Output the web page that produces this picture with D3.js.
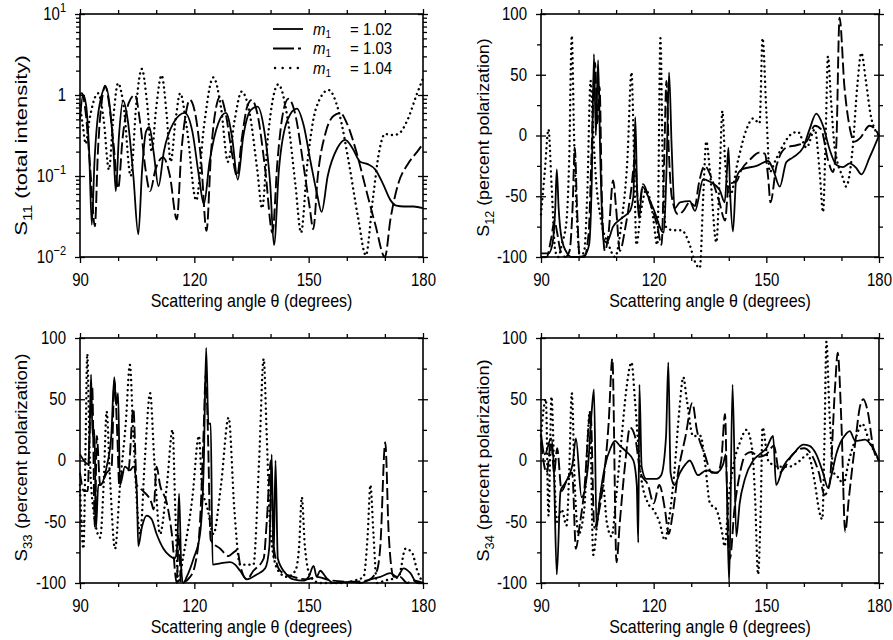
<!DOCTYPE html>
<html>
<head>
<meta charset="utf-8">
<script src="https://cdn.jsdelivr.net/npm/d3@7"></script>
<style>
  body { margin: 0; background: #fff; }
  svg text { font-family: "Liberation Sans", Arial, Helvetica, sans-serif; fill: #000; }
</style>
</head>
<body>
<div id="chart"></div>
<script>
// ---- data: [scattering angle, value] ----
var thetaMajor = [90, 120, 150, 180];
var thetaMinor = [100, 110, 130, 140, 160, 170];
var polMajor = [-100, -50, 0, 50, 100];
var polMinor = [-75, -25, 25, 75];
var logMajor = [0.01, 0.1, 1, 10];
var legendLabels = ["1.02", "1.03", "1.04"];

// S11 (total intensity)
var s11_102 = [[90,0.5],[90.8,1.0],[91.6,0.75],[92.4,0.2],[93.1,0.025],[93.8,0.15],[95,0.7],[96.8,1.25],[98,0.6],[98.8,0.2],[99.4,0.065],[100.2,0.3],[101.3,0.85],[102.5,0.5],[104,0.1],[105.3,0.019],[106.3,0.12],[107.3,0.35],[108.2,0.4],[109.3,0.2],[110.6,0.075],[112,0.2],[114.5,0.45],[117.5,0.6],[119.5,0.35],[121.2,0.1],[122.5,0.045],[124,0.15],[126.3,0.45],[128.3,0.6],[129.9,0.3],[131.4,0.09],[132.8,0.3],[134.8,0.65],[136.6,0.72],[138.4,0.35],[139.9,0.08],[140.9,0.014],[142.2,0.12],[144.5,0.5],[146.9,0.68],[148.7,0.42],[150.5,0.15],[152.2,0.06],[153.4,0.036],[155,0.1],[157.5,0.22],[159.6,0.28],[161.5,0.22],[163.5,0.15],[165.5,0.14],[167.5,0.12],[169.5,0.08],[171.5,0.05],[173,0.043],[175,0.042],[177.5,0.042],[180,0.04]];
var s11_103 = [[90,1.0],[90.5,1.05],[91.5,0.6],[92.7,0.12],[93.9,0.024],[94.7,0.2],[95.8,0.9],[96.6,1.3],[97.6,0.8],[98.8,0.25],[100,0.07],[101.2,0.3],[102.8,0.8],[104.4,1.0],[105.8,0.45],[107.2,0.12],[108.4,0.065],[109.8,0.12],[111.8,0.17],[113.6,0.1],[115.4,0.029],[116.6,0.2],[117.8,0.6],[118.8,0.87],[120.2,0.6],[121.8,0.15],[123.2,0.021],[124.4,0.2],[125.7,0.7],[126.8,0.95],[128.2,0.6],[129.8,0.2],[131.2,0.1],[132.5,0.3],[134,0.75],[135.1,0.87],[136.5,0.6],[138.6,0.12],[140.5,0.02],[141.8,0.15],[143.4,0.65],[144.7,0.9],[146.4,0.6],[148.5,0.15],[150.3,0.04],[151.2,0.022],[152.4,0.1],[154.5,0.35],[156.5,0.55],[158.3,0.6],[160,0.45],[162.5,0.2],[165,0.07],[167.5,0.025],[170,0.01],[171.5,0.03],[173.5,0.08],[176,0.14],[178.5,0.2],[180,0.25]];
var s11_104 = [[90,0.75],[90.8,0.4],[91.5,0.25],[92.5,0.5],[94.8,1.05],[96.2,0.5],[97.6,0.12],[98.7,0.5],[100,1.4],[101.5,0.7],[103.3,0.1],[104.8,0.8],[106.2,2.1],[107.6,0.8],[108.8,0.2],[110,0.7],[111.4,1.75],[112.7,0.6],[113.8,0.15],[115.1,0.5],[116.3,1.05],[118,0.4],[120.5,0.05],[122.5,0.4],[125,1.65],[127,0.7],[128.8,0.15],[130.6,0.5],[132.4,1.1],[134.5,0.6],[136.5,0.12],[137.8,0.04],[139.3,0.3],[142,1.35],[144.5,0.5],[146.5,0.08],[148,0.02],[149.7,0.15],[152,0.7],[155.2,1.15],[158,0.6],[160.5,0.15],[163,0.03],[165,0.0105],[166.8,0.05],[168.5,0.2],[170,0.33],[172,0.32],[173.5,0.33],[176,0.5],[178.3,1.0],[180,1.6]];

// S12 (percent polarization)
var s12_102 = [[90,-97],[92,-97],[93,-90],[93.8,-60],[94.2,-28],[94.7,-60],[95.5,-85],[97,-97],[98,-100],[100,-100],[101.5,-99],[102.8,-90],[103.5,-40],[104.1,67],[104.6,0],[105.2,62],[105.8,-20],[106.6,-85],[107.5,-88],[109.2,-75],[111.5,-68],[113.7,-62],[114.6,-50],[115.1,15],[115.6,-45],[116.1,-68],[117,-42],[118.5,-50],[119.9,-60],[122.7,-80],[123.4,-30],[124.1,52],[124.8,-10],[125.6,-60],[127,-55],[129.6,-54],[131,-62],[133.2,-36],[135,-38],[137.6,-45],[138.9,-55],[139.5,-30],[139.9,-10],[140.4,-50],[141.1,-79],[142,-35],[143.4,-28],[147.4,-25],[150.5,-21],[151.8,-28],[153.6,-42],[155.3,-22],[157.1,-18],[159.8,-10],[161.5,5],[163.3,18],[165.1,8],[166.9,-12],[168.6,-24],[170.4,-26],[172.2,-23],[174,-27],[175.3,-32],[177.5,-18],[180,0]];
var s12_103 = [[90,-100],[91.5,-100],[92.7,-85],[93.6,-70],[94.3,-80],[95.2,-95],[96.5,-100],[97.6,-95],[98.4,-60],[99,-10],[99.6,-60],[100.3,-100],[101.5,-100],[102.7,-80],[103.4,-20],[104.4,60],[105,10],[105.6,40],[106.2,-50],[107,-95],[108,-80],[109.2,-37],[110,-60],[111,-95],[112.5,-75],[114,-45],[115,-20],[116,-60],[117.2,-40],[119,-55],[121,-75],[122.1,-90],[122.8,-20],[123.4,45],[124,-10],[124.8,-50],[126.5,-65],[127.9,-62],[129.6,-55],[131,-58],[132,-40],[133.6,-25],[135.4,-35],[137.5,-55],[139,-70],[140,-40],[142,-38],[143.4,-28],[145.6,-20],[148.2,-14],[149.6,-15],[150.5,-35],[151.1,-55],[152.7,-25],[155.3,-10],[158,-8],[160.7,-5],[162.9,8],[164.6,5],[166.4,-20],[167.7,-30],[168.6,-10],[169.5,97],[170.8,40],[172,10],[173.5,-5],[175,-2],[177.5,8],[179,5],[180,0]];
var s12_104 = [[90,-65],[91,-30],[92,5],[92.8,-40],[93.8,-95],[94.6,-100],[95.5,-90],[96.8,-70],[97.5,-20],[98.2,82],[98.8,0],[99.6,-70],[100.4,-100],[101.5,-95],[102.3,-50],[103.2,45],[103.8,10],[104.5,-30],[106,-70],[108,-90],[109.7,-100],[111.5,-70],[113,-20],[114.1,52],[114.8,-20],[115.4,-90],[116.5,-65],[118,-45],[119.5,-60],[121,-90],[121.8,80],[122.4,-20],[123.2,-75],[125.2,-78],[127.4,-78],[129.6,-90],[131,-104],[132.3,-109],[133.2,-50],[134,-5],[135,-30],[136.7,-88],[137.6,-30],[138.3,20],[139,-20],[140.3,-50],[142.5,-20],[144.7,5],[146.5,14],[148.2,10],[149,80],[150,20],[150.9,-30],[152.5,-20],[154.5,-8],[156.2,0],[158.4,3],[160.7,-10],[162.9,5],[164.2,-30],[165.1,-63],[165.8,0],[166.4,65],[167.2,30],[168.2,-10],[170.4,-35],[171.2,-42],[173,-10],[174.2,40],[175.3,68],[176.5,45],[177.9,15],[180,0]];

// S33 (percent polarization)
var s33_102 = [[90,5],[91,0],[92,-3],[92.5,20],[92.9,70],[93.3,20],[93.8,25],[94.2,-55],[94.8,-20],[95.3,-20],[97,-5],[98.2,20],[99,68],[99.5,45],[100,55],[100.5,-20],[101.8,-5],[103.1,-8],[104,-5],[104.9,-25],[105.3,-70],[106.2,-55],[107.5,-45],[108.8,-48],[110.1,-60],[111.9,-72],[113.6,-78],[114.9,-80],[115.5,-70],[116,-27],[116.6,-90],[117.1,-100],[118,-95],[119.8,-80],[121.5,-60],[122.5,0],[123.1,92],[123.7,30],[124.3,30],[124.8,-85],[126.8,-84],[129.4,-83],[130.7,-85],[132,-90],[133.8,-97],[136.4,-93],[138.6,-88],[139.7,-70],[140.3,5],[140.8,-80],[141.3,0],[141.9,-80],[143.9,-92],[146,-97],[148.7,-98],[150,-95],[151.3,-86],[152.1,-95],[153,-90],[154.7,-96],[156.6,-100],[161,-99],[163.6,-100],[166.2,-97],[168.8,-95],[171.4,-92],[173.2,-95],[174.9,-88],[176.7,-92],[178.4,-100],[180,-100]];
var s33_103 = [[90,-10],[91,-25],[92,-25],[92.6,30],[93.2,60],[93.9,-55],[94.4,20],[95.3,-20],[97,-10],[98.3,-5],[99,65],[99.8,20],[100.3,-20],[101,-10],[102.7,-8],[104,42],[104.9,-20],[106.6,-25],[108.8,-35],[109.3,-40],[110.1,-5],[111,-20],[112.8,-35],[114.1,-60],[115.4,-100],[115.9,-60],[116.5,-100],[118.9,-95],[120.2,-85],[121.5,-50],[122.4,20],[123,70],[123.5,30],[124.3,-65],[126.8,-72],[129,-78],[130.3,-75],[131.3,-73],[132,-85],[133.8,-97],[135.5,-90],[138.2,-80],[139,-50],[140.1,0],[140.8,-70],[142.5,-90],[146,-95],[149.5,-97],[152,-95],[156,-98],[161,-99],[165.3,-98],[167.9,-90],[168.8,-70],[170.1,15],[171,-60],[172.3,-95],[174,-95],[175.8,-100],[177.5,-98],[180,-100]];
var s33_104 = [[90,-20],[90.9,-72],[91.5,20],[91.9,87],[92.5,10],[93.5,-40],[95.3,-63],[96.2,-20],[97,40],[97.8,-10],[99.2,-72],[100.5,-20],[102,30],[103.1,78],[104,20],[105.8,-60],[107,0],[108.4,55],[109.5,0],[111,-60],[112.8,-20],[114.3,25],[115,-40],[115.8,-100],[117,-80],[119.5,-30],[121.2,20],[122,-20],[123.5,-40],[125,-60],[127,-20],[129,35],[130.5,-40],[132,-85],[135.5,-85],[137,0],[138.2,83],[139,20],[140,-60],[142,-90],[144.3,-95],[146.5,-90],[147.5,-70],[148.2,-30],[149,-70],[150.5,-95],[153,-100],[158,-100],[162,-98],[164.4,-95],[165.5,-60],[166.2,-20],[167,-60],[167.9,-100],[170,-98],[173.6,-95],[175.4,-72],[177.1,-75],[178.5,-90],[180,-100]];

// S34 (percent polarization)
var s34_102 = [[90,22],[91,5],[92.7,18],[93.4,-5],[94.2,-93],[95.2,-25],[96.5,-18],[98.4,-3],[99.3,18],[100.8,-30],[102.5,-5],[103.5,40],[104.1,58],[104.8,-55],[105.5,-35],[107,-5],[108.5,10],[109.7,16],[111,12],[112.8,7],[114.6,0],[115.5,-20],[115.9,-67],[116.2,62],[116.8,-5],[118,-15],[119.4,-15],[120.8,-15],[122,-12],[123.3,20],[123.9,80],[124.5,-10],[125.5,-20],[127,-10],[128.5,-3],[129.6,0],[131.8,-12],[134,-8],[136.7,-10],[138.5,-3],[139.2,5],[140.1,-100],[141,62],[142,-62],[142.9,-35],[144.3,-15],[146.5,0],[148.2,5],[150,10],[151.8,20],[152.6,-20],[154.5,-5],[157.1,5],[159.8,13],[161.5,12],[163.3,5],[165.1,-10],[166.4,-22],[167.5,-10],[168.6,5],[171.3,22],[172.2,24],[173.7,16],[176.3,17],[178,12],[180,0]];
var s34_103 = [[90,15],[91.5,-10],[92.7,15],[93.5,-10],[94.3,10],[95.5,-25],[97,-15],[98.3,-10],[99.3,-72],[100.2,-55],[101.5,-25],[103.2,40],[104.2,-55],[105.2,-45],[106.5,-20],[108,30],[109,83],[110.1,-83],[111,-50],[112.5,0],[113.7,27],[115,20],[116.5,-10],[118.5,-20],[120,-35],[121.5,-20],[123,-40],[124,-60],[125,-45],[126.5,-10],[128.5,20],[130.3,47],[131.5,25],[133.6,5],[135.5,-10],[137,-10],[138,0],[139,38],[139.5,-20],[140.3,-80],[141.5,-40],[143,-10],[144.5,5],[146,7],[148,3],[150,5],[152,12],[153.5,-10],[155,-5],[157,5],[160,10],[162,5],[164,-10],[165.5,-28],[166.8,-20],[168.3,60],[169,88],[170,30],[171,-58],[172,-30],[173.5,10],[175,45],[175.8,50],[177,40],[178.5,10],[180,0]];
var s34_104 = [[90,20],[91.3,50],[92,-45],[92.8,52],[93.5,-5],[94.2,-50],[95.5,-40],[96.8,-53],[97.5,-10],[98.2,55],[99,-20],[100,-60],[101.5,-40],[103,40],[103.9,-77],[105,-50],[106.5,-20],[107.5,-50],[108.8,-62],[110,-30],[111.5,20],[112.8,60],[114.1,80],[115,50],[116.5,-10],[118.5,-35],[119.9,-40],[121.5,-50],[123,-65],[124,-50],[125.5,-10],[126.8,40],[127.9,68],[128.8,50],[130.5,20],[132.5,20],[133.6,0],[135,-35],[136.7,-40],[138.3,-60],[138.9,-70],[140,-30],[141.5,0],[143,15],[144.7,25],[146.2,10],[147,-30],[147.8,-93],[148.5,-40],[149,27],[150.5,0],[153,-5],[156,-5],[159,0],[161,5],[163,-20],[164,-40],[164.9,-48],[165.5,20],[166,97],[166.8,40],[168,-10],[169.5,-15],[170.4,-20],[172,0],[174,20],[175.5,30],[177.5,15],[180,0]];

var svg = d3.select("#chart")
    .append("svg")
    .attr("width", 893)
    .attr("height", 640);

// line styles for m1 = 1.02, 1.03, 1.04
var styles = [
    { dash: null, width: 1.8, cap: "butt" },
    { dash: "12,4", width: 1.9, cap: "butt" },
    { dash: "0.1,5", width: 2.4, cap: "round" }
];

var textStretch = 1.2;   // glyphs in the figure are taller than they are wide

// stretch text vertically about a fixed y
function stretch(sel, pivotY, k) {
    k = k || textStretch;
    sel.attr("transform", function(d) {
        var py = pivotY(d, this);
        return "translate(0," + py + ") scale(1," + k + ") translate(0," + (-py) + ")";
    });
}

function drawPanel(p) {
    var g = svg.append("g");

    var x = d3.scaleLinear().domain([90, 180]).range([p.x0, p.x1]);
    var y = p.log
        ? d3.scaleLog().domain([0.01, 10]).range([p.y1, p.y0])
        : d3.scaleLinear().domain([-100, 100]).range([p.y1, p.y0]);

    var line = d3.line()
        .x(function(d) { return x(d[0]); })
        .y(function(d) { return y(d[1]); })
        .curve(d3.curveMonotoneX);

    p.series.forEach(function(s, i) {
        g.append("path")
            .attr("d", line(s))
            .attr("fill", "none")
            .attr("stroke", "#000")
            .attr("stroke-width", styles[i].width)
            .attr("stroke-linecap", styles[i].cap)
            .attr("stroke-linejoin", "round")
            .attr("stroke-dasharray", styles[i].dash);
    });

    // frame
    g.append("rect")
        .attr("x", p.x0).attr("y", p.y0)
        .attr("width", p.x1 - p.x0).attr("height", p.y1 - p.y0)
        .attr("fill", "none").attr("stroke", "#000").attr("stroke-width", 1.6);

    // x ticks, bottom and top, pointing outward
    var axB = d3.axisBottom(x).tickValues(thetaMajor).tickSize(6).tickPadding(9).tickFormat(d3.format("d"));
    var axBm = d3.axisBottom(x).tickValues(thetaMinor).tickSize(4).tickFormat("");
    var axT = d3.axisTop(x).tickValues(thetaMajor).tickSize(5).tickFormat("");
    var axTm = d3.axisTop(x).tickValues(thetaMinor).tickSize(4).tickFormat("");
    g.append("g").attr("transform", "translate(0," + p.y1 + ")").call(axB);
    g.append("g").attr("transform", "translate(0," + p.y1 + ")").call(axBm);
    g.append("g").attr("transform", "translate(0," + p.y0 + ")").call(axT);
    g.append("g").attr("transform", "translate(0," + p.y0 + ")").call(axTm);

    // y ticks: majors cross the frame, minors point outward
    var yMajor = p.log ? logMajor : polMajor;
    var yMinor = p.log
        ? d3.range(-2, 1).flatMap(function(k) { return d3.range(2, 10).map(function(m) { return m * Math.pow(10, k); }); })
        : polMinor;
    [[d3.axisLeft, p.x0], [d3.axisRight, p.x1]].forEach(function(a) {
        g.append("g").attr("transform", "translate(" + a[1] + ",0)")
            .call(a[0](y).tickValues(yMajor).tickSize(5).tickFormat(""));
        g.append("g").attr("transform", "translate(" + a[1] + ",0)")
            .call(a[0](y).tickValues(yMajor).tickSize(-5).tickFormat(""));
        g.append("g").attr("transform", "translate(" + a[1] + ",0)")
            .call(a[0](y).tickValues(yMinor).tickSize(4).tickFormat(""));
    });

    g.selectAll(".domain").remove();
    g.selectAll(".tick line").attr("stroke", "#000").attr("stroke-width", 1.3);
    var xt = g.selectAll(".tick text").attr("font-size", 15).attr("font-family", null);
    stretch(xt, function() { return 9; });

    // y tick labels
    var lab = g.selectAll(".ylab").data(yMajor).enter().append("text")
        .attr("class", "ylab")
        .attr("x", p.x0 - 14)
        .attr("y", function(d) { return y(d) + 5; })
        .attr("text-anchor", "end")
        .attr("font-size", 15);
    if (p.log) {
        lab.text("10").append("tspan")
            .attr("dy", -7).attr("font-size", 11)
            .text(function(d) { var e = Math.round(Math.log10(d)); return e < 0 ? "\u2212" + (-e) : e; });
        lab.filter(function(d) { return d === 1; }).text("1");
    } else {
        lab.text(function(d) { return d; });
    }
    stretch(lab, function(d) { return y(d); });

    // axis titles
    var xtitle = g.append("text")
        .attr("x", (p.x0 + p.x1) / 2)
        .attr("y", p.y1 + 50)
        .attr("text-anchor", "middle")
        .attr("font-size", 16)
        .text("Scattering angle \u03b8 (degrees)");
    stretch(xtitle, function() { return p.y1 + 50; });

    var yt = g.append("text")
        .attr("transform", "translate(" + p.labelX + "," + ((p.y0 + p.y1) / 2 + p.labelDy) + ") scale(1," + p.labelStretch + ") rotate(-90)")
        .attr("text-anchor", "middle")
        .attr("font-size", 17);
    yt.append("tspan").text("S");
    yt.append("tspan").attr("dy", 5).attr("font-size", 12).text(p.sub);
    yt.append("tspan").attr("dy", -5).text(" (" + p.desc + ")");

    return { x: x, y: y, g: g };
}

var p1 = drawPanel({ x0: 80, x1: 423, y0: 14, y1: 257, log: true, labelX: 27, labelDy: 10, labelStretch: 1.3, sub: "11", desc: "total intensity", series: [s11_102, s11_103, s11_104] });
drawPanel({ x0: 541, x1: 879, y0: 14, y1: 257, log: false, labelX: 489, labelDy: 2, labelStretch: 1.05, sub: "12", desc: "percent polarization", series: [s12_102, s12_103, s12_104] });
drawPanel({ x0: 80, x1: 423, y0: 338, y1: 583, log: false, labelX: 27, labelDy: -3, labelStretch: 1.1, sub: "33", desc: "percent polarization", series: [s33_102, s33_103, s33_104] });
drawPanel({ x0: 541, x1: 879, y0: 338, y1: 583, log: false, labelX: 489, labelDy: 0, labelStretch: 1.07, sub: "34", desc: "percent polarization", series: [s34_102, s34_103, s34_104] });

// legend inside the S11 panel
var leg = p1.g.selectAll(".leg").data(legendLabels).enter().append("g")
    .attr("class", "leg")
    .attr("transform", function(d, i) { return "translate(273," + (29 + i * 19.5) + ")"; });
leg.append("line")
    .attr("x1", function(d, i) { return i === 2 ? 2 : 0; })
    .attr("x2", 30)
    .attr("stroke", "#000")
    .attr("stroke-width", function(d, i) { return styles[i].width; })
    .attr("stroke-linecap", function(d, i) { return styles[i].cap; })
    .attr("stroke-dasharray", function(d, i) { return i === 1 ? "21,4,3,40" : (i === 2 ? "0.1,7.5" : null); });
var lt = leg.append("text").attr("x", 40).attr("y", 5).attr("font-size", 15)
    .attr("transform", "translate(0,0) scale(1,1.1)");
lt.append("tspan").attr("font-style", "italic").text("m");
lt.append("tspan").attr("dy", 3).attr("font-size", 10).text("1");
lt.append("tspan").attr("dy", -3).attr("x", 77).text(function(d) { return "= " + d; });
</script>
</body>
</html>
